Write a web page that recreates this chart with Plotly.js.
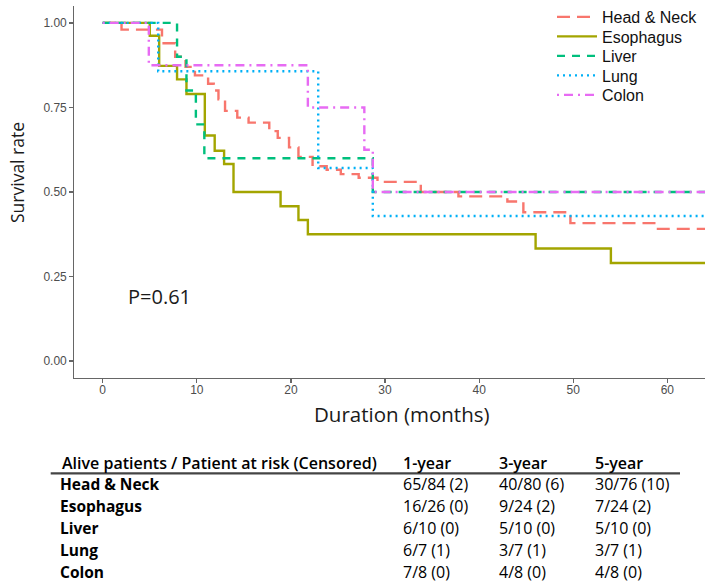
<!DOCTYPE html>
<html><head><meta charset="utf-8">
<script src="https://cdn.plot.ly/plotly-3.0.1.min.js"></script>
<style>html,body{margin:0;padding:0;background:#fff}#chart{width:720px;height:582px}</style>
</head><body><div id="chart"></div>
<script>
// ---- data ----
const groups = ['Head & Neck', 'Esophagus', 'Liver', 'Lung', 'Colon'];
const headNeckTime = [0, 2, 6.3, 7.7, 8.8, 9.8, 11.2, 11.8, 12.3, 13, 14.3, 15.5, 17.7, 18.6, 19.8, 20.8, 22.3, 23.8, 25.3, 27.2, 29.2, 33.8, 37.8, 43, 44.7, 49.7, 58.8, 64];
const headNeckSurv = [1, 0.98, 0.94, 0.90, 0.87, 0.845, 0.82, 0.80, 0.774, 0.74, 0.72, 0.705, 0.68, 0.66, 0.632, 0.604, 0.576, 0.566, 0.553, 0.542, 0.530, 0.50, 0.487, 0.472, 0.440, 0.408, 0.391, 0.391];
const esophagusTime = [0, 5, 6, 7.9, 8.9, 10.85, 11.9, 12.9, 13.9, 18.9, 20.8, 21.8, 46, 54, 64];
const esophagusSurv = [1, 0.962, 0.873, 0.833, 0.79, 0.667, 0.622, 0.583, 0.50, 0.458, 0.417, 0.375, 0.333, 0.29, 0.29];
const liverTime = [0, 7.9, 8.9, 9.9, 10.8, 28.7, 64];
const liverSurv = [1, 0.9, 0.8, 0.7, 0.6, 0.5, 0.5];
const lungTime = [0, 5.9, 22.9, 28.7, 64];
const lungSurv = [1, 0.857, 0.571, 0.429, 0.429];
const colonTime = [0, 4.9, 21.8, 27.8, 28.7, 64];
const colonSurv = [1, 0.875, 0.75, 0.625, 0.5, 0.5];
const xTicks = [0, 10, 20, 30, 40, 50, 60];
const yTicks = [0, 0.25, 0.5, 0.75, 1];
const pValueText = 'P=0.61';
const tableHeader = ['Alive patients / Patient at risk (Censored)', '1-year', '3-year', '5-year'];
const tableRows = ['Head & Neck', 'Esophagus', 'Liver', 'Lung', 'Colon'];
const year1 = ['65/84 (2)', '16/26 (0)', '6/10 (0)', '6/7 (1)', '7/8 (0)'];
const year3 = ['40/80 (6)', '9/24 (2)', '5/10 (0)', '3/7 (1)', '4/8 (0)'];
const year5 = ['30/76 (10)', '7/24 (2)', '5/10 (0)', '3/7 (1)', '4/8 (0)'];

// ---- styles ----
const colors = ['#F8766D', '#A3A500', '#00BF7D', '#00B0F6', '#E76BF3'];
const dashes = ['13px,7px', 'solid', '8px,7px', '2px,4px', '2px,5px,9px,5px'];
const series = [[headNeckTime, headNeckSurv], [esophagusTime, esophagusSurv], [liverTime, liverSurv], [lungTime, lungSurv], [colonTime, colonSurv]];

const W = 720, H = 582, ML = 74, MR = 15, MT = 6, MB = 204;
const PW = W - ML - MR, PH = H - MT - MB;
const px = X => (X - ML) / PW;
const py = Y => (H - MB - Y) / PH;

const legendIds = ['legend', 'legend2', 'legend3', 'legend4', 'legend5'];
const legendY = [17, 36.5, 56, 75.5, 95];

const traces = groups.map((g, i) => ({
  type: 'scatter', mode: 'lines', name: g, legend: legendIds[i],
  x: series[i][0], y: series[i][1],
  line: {shape: 'hv', color: colors[i], width: 2.4, dash: dashes[i]},
  hoverinfo: 'x+y+name'
}));

const sans = '"Open Sans", "Noto Sans", sans-serif';
const tfont = {family: sans, size: 15.5, color: '#000'};
const vfont = {family: sans, size: 16, color: '#000'};
const hfont = {family: sans, size: 16, color: '#000', weight: 600};
const annotations = [];
annotations.push({xref: 'x', yref: 'y', x: 6, y: 0.19, text: pValueText, showarrow: false,
  font: {family: sans, size: 20, color: '#1a1a1a'}, xanchor: 'center', yanchor: 'middle'});
annotations.push({xref: 'paper', yref: 'paper', x: px(402), y: py(414), text: 'Duration (months)', showarrow: false,
  font: {family: sans, size: 20.5, color: '#1a1a1a'}, xanchor: 'center', yanchor: 'middle'});
annotations.push({xref: 'paper', yref: 'paper', x: px(17), y: py(173), text: 'Survival rate', showarrow: false, textangle: -90,
  font: {family: sans, size: 17.5, color: '#1a1a1a'}, xanchor: 'center', yanchor: 'middle'});

const colX = [60, 401, 497, 593];
tableHeader.forEach((t, j) => annotations.push({xref: 'paper', yref: 'paper', x: px(colX[j]), y: py(463.3), text: t,
  showarrow: false, xanchor: 'left', yanchor: 'middle', font: hfont}));
const rowY = [484.3, 506, 528.3, 550, 571.7];
tableRows.forEach((r, i) => {
  annotations.push({xref: 'paper', yref: 'paper', x: px(57.5), y: py(rowY[i]), text: '<b>' + r + '</b>',
    showarrow: false, xanchor: 'left', yanchor: 'middle', font: tfont});
  [year1, year3, year5].forEach((col, j) => annotations.push({xref: 'paper', yref: 'paper', x: px(colX[j + 1]), y: py(rowY[i]),
    text: col[i], showarrow: false, xanchor: 'left', yanchor: 'middle', font: vfont}));
});

const axisCommon = {showgrid: false, zeroline: false, showline: true, linecolor: '#666', linewidth: 1.3,
  ticks: 'outside', ticklen: 3.5, tickcolor: '#666', tickwidth: 1.2,
  tickfont: {family: 'Liberation Sans, Arial, sans-serif', size: 12, color: '#4d4d4d'}};

const layout = {
  width: W, height: H,
  margin: {l: ML, r: MR, t: MT, b: MB, pad: 0, autoexpand: false},
  paper_bgcolor: '#fff', plot_bgcolor: '#fff',
  showlegend: true,
  xaxis: Object.assign({range: [-3.05, 64], tickvals: xTicks, ticktext: xTicks.map(String), ticklabelstandoff: -3}, axisCommon),
  yaxis: Object.assign({range: [-0.05, 1.05], tickvals: yTicks, ticktext: yTicks.map(v => v.toFixed(2))}, axisCommon),
  annotations: annotations,
  shapes: [{type: 'line', xref: 'paper', yref: 'paper', x0: px(50.7), x1: px(680), y0: py(473.3), y1: py(473.3),
    line: {color: '#444', width: 2.2}}]
};
legendIds.forEach((id, i) => {
  layout[id] = {x: px(552), y: py(legendY[i]), xanchor: 'left', yanchor: 'middle', bgcolor: 'rgba(0,0,0,0)',
    font: {family: 'Liberation Sans, Arial, sans-serif', size: 16, color: '#111'}, itemwidth: 40};
});

Plotly.newPlot('chart', traces, layout, {displayModeBar: false, staticPlot: true});
</script></body></html>
